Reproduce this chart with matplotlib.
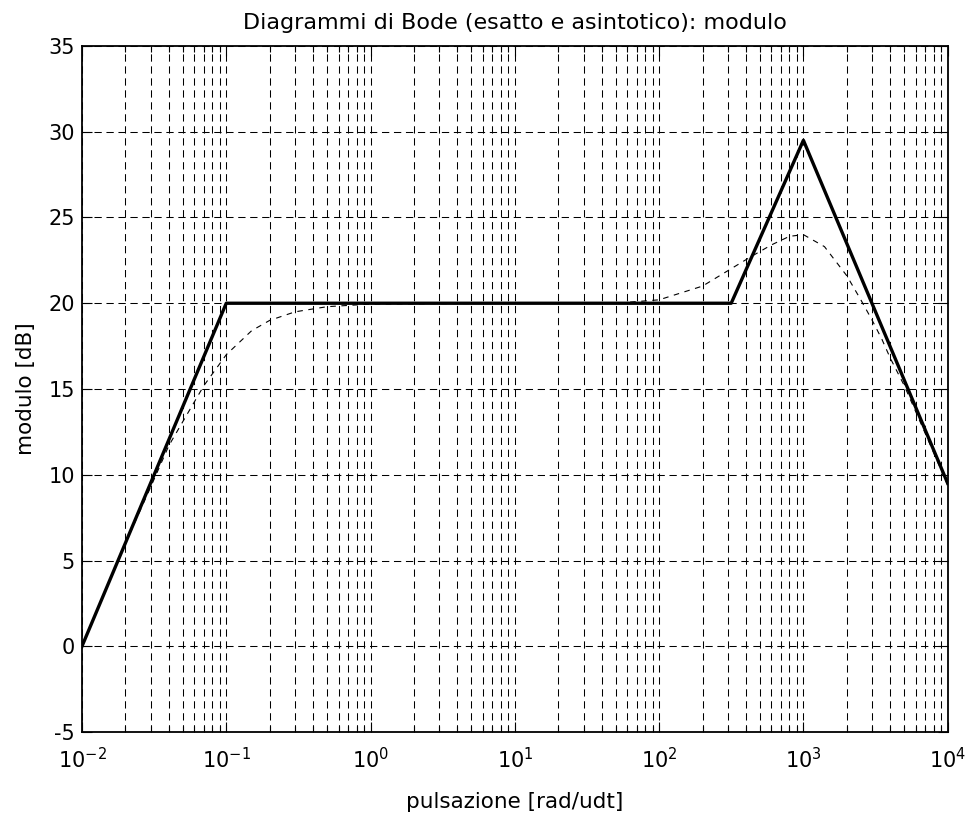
import matplotlib
matplotlib.use("Agg")
import matplotlib.pyplot as plt
from matplotlib.ticker import LogLocator, NullFormatter

plt.rcParams['font.family'] = ['DejaVu Sans']
plt.rcParams['axes.unicode_minus'] = False
plt.rcParams['mathtext.fontset'] = 'dejavusans'

# asymptotic diagram
asym_w = [0.01, 0.1, 316, 1000, 10000]
asym_db = [0.0, 20.0, 20.0, 29.5, 9.5]

# exact diagram
exact_w = [0.01, 0.02, 0.03, 0.04, 0.05, 0.07, 0.1, 0.15, 0.2, 0.3, 0.5, 1, 10, 50,
           100, 200, 300, 430, 600, 800, 1000, 1400, 2000, 2500, 3000, 3500, 4000,
           5000, 7000, 10000]
exact_db = [0.0, 6.0, 9.3, 11.7, 13.1, 15.2, 17.0, 18.4, 19.0, 19.5, 19.8, 19.95, 20.0, 20.0,
            20.2, 21.0, 21.9, 22.7, 23.4, 23.9, 24.0, 23.3, 21.6, 20.2, 19.0, 17.9, 16.8,
            15.2, 12.4, 9.4]

yticks = [-5, 0, 5, 10, 15, 20, 25, 30, 35]

fig = plt.figure(figsize=(9.69, 8.15), dpi=100)
ax = fig.add_axes([0.0846, 0.1018, 0.8934, 0.8418])

ax.semilogx(exact_w, exact_db, color='black', linestyle=(0, (5, 5)), linewidth=0.8)
ax.semilogx(asym_w, asym_db, color='black', linestyle='-', linewidth=2.4)

ax.set_xlim(1e-2, 1e4)
ax.set_ylim(-5, 35)
ax.set_yticks(yticks)
ax.xaxis.set_major_locator(LogLocator(base=10, numticks=20))
ax.xaxis.set_minor_locator(LogLocator(base=10, subs=range(2, 10), numticks=100))
ax.xaxis.set_minor_formatter(NullFormatter())

grid_ls = (0, (7, 4.5))
ax.grid(True, which='major', axis='both', color='black', linestyle=grid_ls, linewidth=0.75)
ax.grid(True, which='minor', axis='x', color='black', linestyle=grid_ls, linewidth=0.75)

ax.tick_params(which='both', direction='in', top=True, right=True, labelsize=15, colors='black')
ax.tick_params(which='major', length=7, width=0.8)
ax.tick_params(which='minor', length=4, width=0.8)
ax.tick_params(axis='x', which='major', pad=11)
ax.tick_params(axis='y', which='major', pad=5)
for s in ax.spines.values():
    s.set_linewidth(1.3)

ax.set_title('Diagrammi di Bode (esatto e asintotico): modulo', fontsize=16, pad=12)
ax.set_xlabel('pulsazione [rad/udt]', fontsize=15.5, labelpad=14)
ax.set_ylabel('modulo [dB]', fontsize=15.5, labelpad=9)

fig.savefig('out.png', dpi=100)
